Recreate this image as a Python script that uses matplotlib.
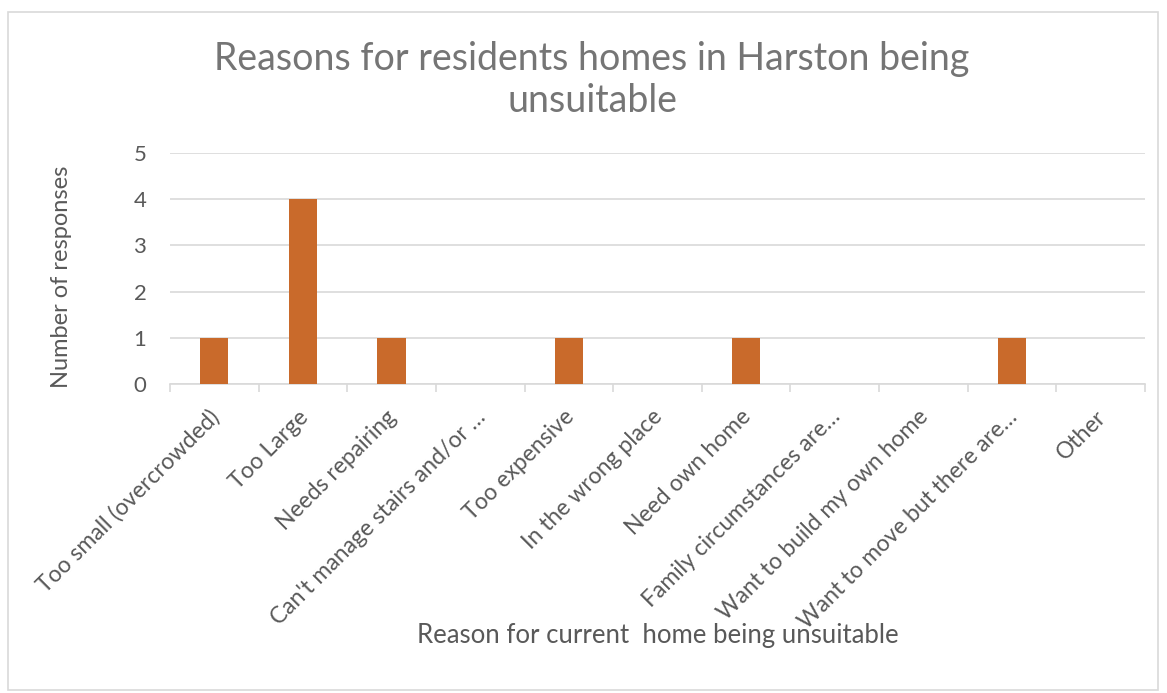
import matplotlib
matplotlib.use("Agg")
import matplotlib.pyplot as plt
from matplotlib.patches import Rectangle
from matplotlib.transforms import ScaledTranslation
import numpy as np

plt.rcParams['font.family'] = ['Lato', 'DejaVu Sans']

categories = [
    "Too small (overcrowded)", "Too Large", "Needs repairing",
    "Can't manage stairs and/or …", "Too expensive", "In the wrong place",
    "Need own home", "Family circumstances are…", "Want to build my own home",
    "Want to move but there are…", "Other",
]
values = [1, 4, 1, 0, 1, 0, 1, 0, 0, 1, 0]
yticks = [0, 1, 2, 3, 4, 5]

title = "Reasons for residents homes in Harston being\nunsuitable"
xlabel = "Reason for current  home being unsuitable"
ylabel = "Number of responses"

bar_color = "#C96A2B"
grid_color = "#D9D9D9"
text_color = "#595959"

fig = plt.figure(figsize=(11.67, 6.93), dpi=100)
fig.patches.append(Rectangle((8/1167, 3/693), 1150/1167, 678/693, transform=fig.transFigure,
                             fill=False, edgecolor=grid_color, linewidth=1.2))
ax = fig.add_axes([170/1167, 1-384/693, 975/1167, 231/693])

x = np.arange(len(categories))
ax.bar(x, values, width=0.32, color=bar_color, zorder=3)
ax.set_xlim(-0.5, len(categories) - 0.5)
ax.set_ylim(0, 5)
ax.set_yticks(yticks)
ax.set_yticklabels([str(v) for v in yticks], fontsize=16, color=text_color)
ax.yaxis.grid(True, color=grid_color, linewidth=1.2, zorder=0)
ax.tick_params(axis='y', length=0, pad=17)

ax.set_xticks(x)
ax.set_xticklabels(categories, rotation=45, ha='right', va='top', rotation_mode='anchor',
                   fontsize=16.5, color=text_color)
ax.tick_params(axis='x', which='major', length=0, pad=16)
for lab in ax.get_xticklabels():
    lab.set_transform(lab.get_transform() + ScaledTranslation(-4/72, 0, fig.dpi_scale_trans))
ax.set_xticks(np.arange(-0.5, len(categories)), minor=True)
ax.tick_params(axis='x', which='minor', length=6, color=grid_color, width=1.2)

for s in ['top', 'right', 'left']:
    ax.spines[s].set_visible(False)
ax.spines['bottom'].set_color(grid_color)
ax.spines['bottom'].set_linewidth(1.2)

fig.text(592/1167, 1-80/693, title, ha='center', va='center', fontsize=27,
         color="#757575", linespacing=1.2)
fig.text(658/1167, 1-636/693, xlabel, ha='center', va='center', fontsize=18.5, color=text_color)
fig.text(62/1167, 1-277/693, ylabel, ha='center', va='center', rotation=90,
         fontsize=17, color=text_color)

fig.savefig("out.png", dpi=100)
